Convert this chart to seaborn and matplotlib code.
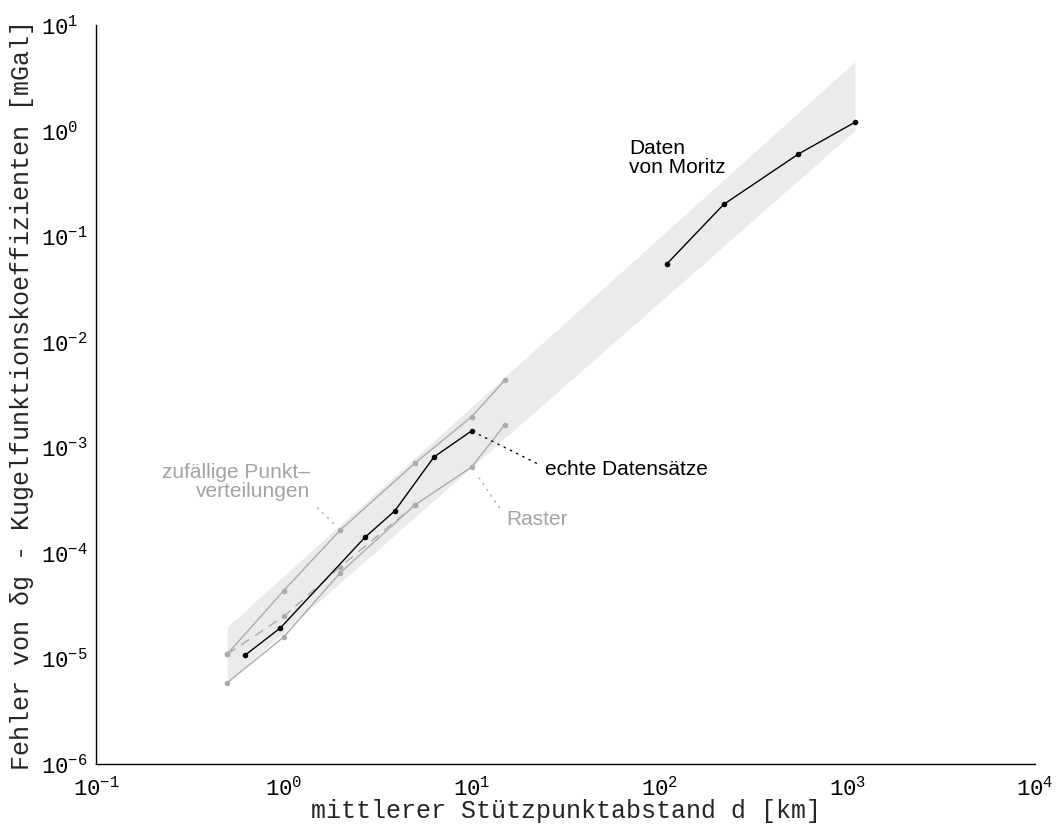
import numpy as np
import pandas as pd
import matplotlib
matplotlib.use("Agg")
import matplotlib.pyplot as plt
import seaborn as sns
from matplotlib.ticker import (FixedLocator, LogLocator,
                               LogFormatterSciNotation, NullFormatter)

# --- data -------------------------------------------------------------
# spread of the error over the station spacing (lower/upper bound)
band_d = [0.5, 1100]
band_lo = [6e-6, 1.0]
band_hi = [2e-5, 4.5]

# random point distributions (upper solid and dashed variant)
rand_d = [0.5, 1, 2, 5, 10, 15]
rand_err = [1.1e-5, 4.4e-5, 1.65e-4, 7.1e-4, 1.95e-3, 4.3e-3]
rand2_d = [0.5, 1, 2, 5]
rand2_err = [1.1e-5, 2.5e-5, 7.4e-5, 2.85e-4]

# regular grid
grid_d = [0.5, 1, 2, 5, 10, 15]
grid_err = [5.9e-6, 1.6e-5, 6.5e-5, 2.85e-4, 6.5e-4, 1.63e-3]

# real data sets
real_d = [0.62, 0.96, 2.7, 3.9, 6.3, 10]
real_err = [1.07e-5, 1.95e-5, 1.4e-4, 2.5e-4, 8.1e-4, 1.43e-3]

# values from Moritz
moritz_d = [110, 220, 550, 1100]
moritz_err = [0.055, 0.2, 0.6, 1.2]

# decade ticks of both axes
x_decades = [1e-1, 1e0, 1e1, 1e2, 1e3, 1e4]
y_decades = [1e-6, 1e-5, 1e-4, 1e-3, 1e-2, 1e-1, 1e0, 1e1]

xlabel = "mittlerer Stützpunktabstand d [km]"
ylabel = "Fehler von δg - Kugelfunktionskoeffizienten [mGal]"

# --- style ------------------------------------------------------------
sns.set_theme(style="white")
plt.rcParams["font.family"] = ["Liberation Mono", "DejaVu Sans Mono"]
plt.rcParams["mathtext.fontset"] = "custom"
plt.rcParams["mathtext.rm"] = "Liberation Mono"
plt.rcParams["mathtext.it"] = "Liberation Mono"
plt.rcParams["mathtext.default"] = "rm"

GRAY_LINE = "#ababab"
GRAY_TEXT = "#a3a3a3"
BAND = "#ebebeb"
SANS = ["Liberation Sans", "DejaVu Sans"]
FS_NOTE = 15
FS_TICK = 16
FS_LABEL = 18

fig = plt.figure(figsize=(10.6, 8.31), dpi=100)
ax = fig.add_axes([0.0906, 0.0806, 0.8858, 0.8893])
ax.set_xscale("log")
ax.set_yscale("log")
ax.set_xlim(x_decades[0], x_decades[-1])
ax.set_ylim(y_decades[0], y_decades[-1])

ax.fill_between(band_d, band_lo, band_hi, color=BAND, linewidth=0, zorder=1)

common = dict(ax=ax, marker="o", markersize=4, markeredgewidth=0,
              linewidth=1.0, legend=False, estimator=None, sort=False)
sns.lineplot(x=rand_d, y=rand_err, color=GRAY_LINE, zorder=2, **common)
sns.lineplot(x=rand2_d, y=rand2_err, color=GRAY_LINE, zorder=2,
             dashes=False, **common).lines[-1].set_dashes([7, 5])
sns.lineplot(x=grid_d, y=grid_err, color=GRAY_LINE, zorder=2, **common)
sns.lineplot(x=real_d, y=real_err, color="black", zorder=3, **common)
sns.lineplot(x=moritz_d, y=moritz_err, color="black", zorder=3, **common)

# --- annotations ------------------------------------------------------
def dotted(color, relpos):
    return dict(arrowstyle="-", linestyle=(0, (1, 4)), color=color,
                linewidth=1.0, shrinkA=4, shrinkB=6, relpos=relpos)

ax.text(69, 0.55, "Daten\nvon Moritz", family=SANS, fontsize=FS_NOTE,
        color="black", ha="left", va="center", linespacing=1.0)

ax.annotate("echte Datensätze", xy=(real_d[-1], real_err[-1]),
            xytext=(24.5, 6.2e-4), textcoords="data", family=SANS,
            fontsize=FS_NOTE, color="black", ha="left", va="center",
            arrowprops=dotted("black", (0, 0.6)))

ax.annotate("Raster", xy=(grid_d[4], grid_err[4]),
            xytext=(15.2, 2.05e-4), textcoords="data", family=SANS,
            fontsize=FS_NOTE, color=GRAY_TEXT, ha="left", va="center",
            arrowprops=dotted(GRAY_LINE, (0, 0.65)))

ax.annotate("zufällige Punkt–\nverteilungen", xy=(rand_d[2], rand_err[2]),
            xytext=(1.38, 4.7e-4), textcoords="data", family=SANS,
            fontsize=FS_NOTE, color=GRAY_TEXT, ha="right", va="center",
            multialignment="right", linespacing=1.0,
            arrowprops=dotted(GRAY_LINE, (1, 0)))

# --- axes -------------------------------------------------------------
for side in ("top", "right"):
    ax.spines[side].set_visible(False)
for side in ("left", "bottom"):
    ax.spines[side].set_color("black")
    ax.spines[side].set_linewidth(1.0)

ax.xaxis.set_major_locator(FixedLocator(x_decades))
ax.yaxis.set_major_locator(FixedLocator(y_decades))
ax.xaxis.set_minor_locator(LogLocator(base=10, subs=np.arange(2, 10), numticks=20))
ax.yaxis.set_minor_locator(LogLocator(base=10, subs=np.arange(2, 10), numticks=20))
ax.xaxis.set_major_formatter(LogFormatterSciNotation())
ax.yaxis.set_major_formatter(LogFormatterSciNotation())
ax.xaxis.set_minor_formatter(NullFormatter())
ax.yaxis.set_minor_formatter(NullFormatter())

ax.tick_params(which="both", direction="in", colors="black", width=1.0)
ax.tick_params(which="major", length=6.5, labelsize=FS_TICK)
ax.tick_params(which="minor", length=3.6)
ax.tick_params(axis="x", which="major", pad=9)
# y tick labels share a common left edge (the "10" lines up)
ax.tick_params(axis="y", which="major", pad=39.5)
for lab in ax.get_yticklabels():
    lab.set_horizontalalignment("left")

ax.set_xlabel(xlabel, fontsize=FS_LABEL, labelpad=-1)
ax.set_ylabel(ylabel, fontsize=FS_LABEL)
ax.yaxis.set_label_coords(-0.079, 0.5)
ax.yaxis.label.set_verticalalignment("center")
ax.grid(False)

fig.savefig("out.png", dpi=100, facecolor="white")
